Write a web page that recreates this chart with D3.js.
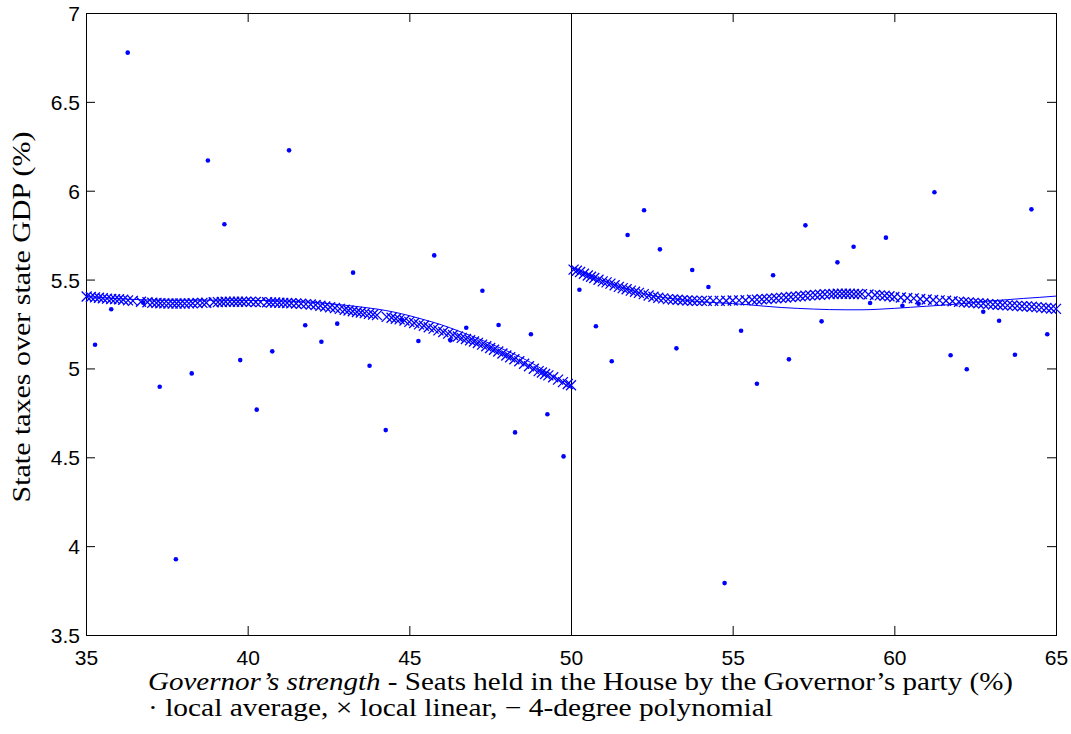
<!DOCTYPE html>
<html>
<head>
<meta charset="utf-8">
<script src="https://cdn.jsdelivr.net/npm/d3@7"></script>
<style>
  body { margin: 0; background: #fff; }
  .tick text { font-family: "Liberation Sans", Arial, sans-serif; font-size: 21px; fill: #000; }
  .lbl { font-family: "Liberation Serif", "Times New Roman", serif; font-size: 25px; fill: #000; }
</style>
</head>
<body>
<svg id="chart" width="1071" height="734"></svg>
<script>
// bin averages (dots)
var avgX = [35.28, 35.78, 36.29, 36.77, 37.28, 37.78, 38.27, 38.77, 39.28, 39.77,
            40.28, 40.76, 41.28, 41.78, 42.28, 42.77, 43.26, 43.77, 44.27, 44.77,
            45.28, 45.77, 46.27, 46.76, 47.26, 47.76, 48.27, 48.76, 49.27, 49.77,
            50.26, 50.77, 51.26, 51.75, 52.26, 52.75, 53.26, 53.75, 54.25, 54.75,
            55.26, 55.75, 56.25, 56.74, 57.25, 57.75, 58.24, 58.74, 59.25, 59.74,
            60.25, 60.75, 61.24, 61.74, 62.24, 62.75, 63.24, 63.73, 64.24, 64.73];
var avgY = [5.133, 5.333, 6.777, 5.370, 4.897, 3.926, 4.972, 6.170, 5.811, 5.047,
            4.768, 5.096, 6.227, 5.243, 5.150, 5.252, 5.539, 5.015, 4.653, 5.274,
            5.154, 5.636, 5.158, 5.229, 5.437, 5.244, 4.640, 5.192, 4.742, 4.505,
            5.443, 5.237, 5.040, 5.751, 5.890, 5.670, 5.113, 5.554, 5.458, 3.792,
            5.212, 4.914, 5.524, 5.051, 5.805, 5.265, 5.597, 5.685, 5.368, 5.736,
            5.353, 5.364, 5.991, 5.074, 4.995, 5.319, 5.268, 5.077, 5.895, 5.192];

// local linear fit (crosses), left of 50
var llLeftX = [35.02, 35.15, 35.28, 35.40, 35.52, 35.65, 35.78, 35.90, 36.02, 36.15,
               36.30, 36.45, 36.70, 36.90, 37.05, 37.18, 37.30, 37.42, 37.55, 37.68,
               37.80, 37.92, 38.05, 38.18, 38.30, 38.45, 38.60, 38.72, 38.95, 39.08,
               39.20, 39.32, 39.45, 39.58, 39.70, 39.82, 39.95, 40.10, 40.25, 40.40,
               40.60, 40.72, 40.85, 40.98, 41.10, 41.22, 41.35, 41.50, 41.65, 41.80,
               41.95, 42.10, 42.25, 42.40, 42.55, 42.70, 42.85, 43.00, 43.12, 43.25,
               43.38, 43.50, 43.62, 43.75, 43.88, 44.00, 44.30, 44.45, 44.58, 44.70,
               44.85, 45.00, 45.15, 45.30, 45.45, 45.60, 45.75, 45.90, 46.05, 46.20,
               46.35, 46.50, 46.62, 46.75, 46.88, 47.00, 47.12, 47.25, 47.38, 47.50,
               47.62, 47.75, 47.88, 48.00, 48.12, 48.25, 48.40, 48.55, 48.70, 48.85,
               49.00, 49.10, 49.20, 49.30, 49.45, 49.60, 49.75, 49.90, 50.00];
var llLeftY = [5.405, 5.402, 5.400, 5.398, 5.395, 5.393, 5.391, 5.390, 5.389, 5.386,
               5.383, 5.380, 5.375, 5.372, 5.370, 5.368, 5.367, 5.366, 5.365, 5.365,
               5.365, 5.365, 5.365, 5.366, 5.367, 5.368, 5.369, 5.370, 5.372, 5.373,
               5.374, 5.375, 5.375, 5.375, 5.375, 5.375, 5.375, 5.375, 5.374, 5.373,
               5.372, 5.371, 5.371, 5.370, 5.369, 5.368, 5.367, 5.365, 5.364, 5.362,
               5.360, 5.357, 5.353, 5.348, 5.344, 5.340, 5.335, 5.330, 5.326, 5.322,
               5.318, 5.315, 5.311, 5.307, 5.303, 5.300, 5.290, 5.285, 5.280, 5.276,
               5.270, 5.262, 5.256, 5.248, 5.240, 5.232, 5.224, 5.214, 5.205, 5.196,
               5.188, 5.180, 5.172, 5.166, 5.159, 5.152, 5.143, 5.134, 5.125, 5.115,
               5.105, 5.095, 5.084, 5.073, 5.063, 5.052, 5.040, 5.026, 5.012, 4.998,
               4.985, 4.977, 4.969, 4.961, 4.950, 4.937, 4.923, 4.912, 4.905];

// local linear fit (crosses), right of 50
var llRightX = [50.08, 50.18, 50.28, 50.40, 50.52, 50.62, 50.72, 50.85, 50.98, 51.10,
                51.22, 51.35, 51.48, 51.60, 51.72, 51.85, 51.98, 52.10, 52.25, 52.40,
                52.55, 52.70, 52.85, 53.00, 53.15, 53.30, 53.45, 53.60, 53.75, 53.90,
                54.05, 54.20, 54.40, 54.60, 54.80, 55.00, 55.20, 55.40, 55.60, 55.75,
                55.90, 56.05, 56.20, 56.35, 56.50, 56.65, 56.80, 56.95, 57.10, 57.25,
                57.40, 57.55, 57.70, 57.85, 58.00, 58.12, 58.25, 58.38, 58.50, 58.62,
                58.75, 58.88, 59.00, 59.20, 59.40, 59.55, 59.70, 59.85, 60.00, 60.20,
                60.40, 60.60, 60.80, 61.00, 61.20, 61.40, 61.60, 61.80, 62.00, 62.15,
                62.30, 62.45, 62.60, 62.75, 62.90, 63.05, 63.20, 63.35, 63.50, 63.65,
                63.80, 63.95, 64.10, 64.25, 64.40, 64.55, 64.70, 64.85, 65.00];
var llRightY = [5.556, 5.550, 5.543, 5.533, 5.523, 5.516, 5.509, 5.499, 5.490, 5.484,
                5.477, 5.468, 5.459, 5.452, 5.446, 5.438, 5.431, 5.425, 5.418, 5.410,
                5.403, 5.398, 5.394, 5.390, 5.388, 5.386, 5.384, 5.382, 5.381, 5.380,
                5.380, 5.380, 5.380, 5.380, 5.381, 5.382, 5.383, 5.384, 5.386, 5.387,
                5.389, 5.391, 5.393, 5.395, 5.397, 5.399, 5.402, 5.404, 5.406, 5.409,
                5.411, 5.413, 5.415, 5.417, 5.418, 5.419, 5.420, 5.420, 5.420, 5.420,
                5.419, 5.419, 5.418, 5.416, 5.413, 5.411, 5.409, 5.406, 5.402, 5.399,
                5.396, 5.394, 5.391, 5.388, 5.385, 5.383, 5.381, 5.378, 5.375, 5.373,
                5.371, 5.369, 5.367, 5.365, 5.362, 5.360, 5.358, 5.357, 5.355, 5.354,
                5.352, 5.350, 5.349, 5.347, 5.345, 5.342, 5.340, 5.337, 5.335];

// 4-degree polynomial fits
var polyLeftX = [35, 35.5, 36, 36.5, 37, 37.5, 38, 38.5, 39, 39.5, 40, 40.5, 41, 41.5, 42,
                 42.5, 43, 43.5, 44, 44.5, 45, 45.5, 46, 46.5, 47, 47.5, 48, 48.5, 49, 49.5, 50];
var polyLeftY = [5.405, 5.398, 5.392, 5.388, 5.385, 5.384, 5.384, 5.384, 5.384, 5.384, 5.383,
                 5.382, 5.380, 5.377, 5.372, 5.365, 5.356, 5.346, 5.334, 5.318, 5.297,
                 5.272, 5.245, 5.212, 5.177, 5.140, 5.100, 5.058, 5.008, 4.950, 4.888];
var polyRightX = [50.05, 50.5, 51, 51.5, 52, 52.5, 53, 53.5, 54, 54.5, 55, 55.5, 56, 56.5, 57,
                  57.5, 58, 58.5, 59, 59.5, 60, 60.5, 61, 61.5, 62, 62.5, 63, 63.5, 64, 64.5, 65];
var polyRightY = [5.565, 5.530, 5.493, 5.460, 5.432, 5.410, 5.395, 5.384, 5.375, 5.370, 5.365,
                  5.358, 5.350, 5.343, 5.338, 5.334, 5.331, 5.330, 5.330, 5.333, 5.338,
                  5.344, 5.350, 5.356, 5.363, 5.372, 5.380, 5.387, 5.394, 5.400, 5.407];

var xTicks = [35, 40, 45, 50, 55, 60, 65];
var yTicks = [3.5, 4, 4.5, 5, 5.5, 6, 6.5, 7];
var cutoff = 50;

var plotL = 86, plotR = 1056, plotT = 13, plotB = 635;
var blue = "#0000ff";

var svg = d3.select("#chart");
var x = d3.scaleLinear().domain([35, 65]).range([plotL, plotR]);
var y = d3.scaleLinear().domain([3.5, 7]).range([plotB, plotT]);

// axes, ticks pointing inward on all four sides
var gx = svg.append("g").attr("transform", "translate(0," + plotB + ")")
  .call(d3.axisBottom(x).tickValues(xTicks).tickFormat(d3.format("d")).tickSizeInner(-9).tickSizeOuter(0).tickPadding(15));
var gxt = svg.append("g").attr("transform", "translate(0," + plotT + ")")
  .call(d3.axisTop(x).tickValues(xTicks).tickFormat("").tickSizeInner(-9).tickSizeOuter(0));
var gy = svg.append("g").attr("transform", "translate(" + plotL + ",0)")
  .call(d3.axisLeft(y).tickValues(yTicks).tickFormat(d => d).tickSizeInner(-9).tickSizeOuter(0).tickPadding(6));
var gyr = svg.append("g").attr("transform", "translate(" + plotR + ",0)")
  .call(d3.axisRight(y).tickValues(yTicks).tickFormat("").tickSizeInner(-9).tickSizeOuter(0));
[gx, gxt, gy, gyr].forEach(function(g) {
  g.select(".domain").remove();
  g.selectAll(".tick line").attr("stroke", "#000").attr("stroke-width", 1);
});
gx.selectAll(".tick text").attr("dy", "0.71em");
gy.selectAll(".tick text").attr("dy", "0.36em");

svg.append("rect")
  .attr("x", plotL).attr("y", plotT).attr("width", plotR - plotL).attr("height", plotB - plotT)
  .attr("fill", "none").attr("stroke", "#000").attr("stroke-width", 1)
  .attr("shape-rendering", "crispEdges");

// threshold line
svg.append("line")
  .attr("x1", x(cutoff)).attr("x2", x(cutoff)).attr("y1", plotT).attr("y2", plotB)
  .attr("stroke", "#000").attr("stroke-width", 1).attr("shape-rendering", "crispEdges");

// dots
svg.append("g").selectAll("circle")
  .data(avgX.map((d, i) => [d, avgY[i]]))
  .join("circle")
  .attr("cx", d => x(d[0])).attr("cy", d => y(d[1])).attr("r", 2.3)
  .attr("fill", blue);

// crosses
var crosses = llLeftX.map((d, i) => [d, llLeftY[i]])
  .concat(llRightX.map((d, i) => [d, llRightY[i]]));
svg.append("g").selectAll("path")
  .data(crosses)
  .join("path")
  .attr("d", function(d) {
    var cx = x(d[0]), cy = y(d[1]), s = 5;
    return "M" + (cx - s) + "," + (cy - s) + "L" + (cx + s) + "," + (cy + s) +
           "M" + (cx - s) + "," + (cy + s) + "L" + (cx + s) + "," + (cy - s);
  })
  .attr("stroke", blue).attr("stroke-width", 1.3).attr("fill", "none");

// polynomial lines
var line = d3.line().x(d => x(d[0])).y(d => y(d[1])).curve(d3.curveMonotoneX);
[[polyLeftX, polyLeftY], [polyRightX, polyRightY]].forEach(function(p) {
  svg.append("path")
    .datum(p[0].map((d, i) => [d, p[1][i]]))
    .attr("d", line)
    .attr("fill", "none").attr("stroke", blue).attr("stroke-width", 1);
});

// labels
var xl = svg.append("text").attr("class", "lbl").attr("x", 148).attr("y", 690)
  .attr("textLength", 865).attr("lengthAdjust", "spacingAndGlyphs");
xl.append("tspan").attr("font-style", "italic").text("Governor\u2019s strength");
xl.append("tspan").text(" - Seats held in the House by the Governor\u2019s party (%)");

svg.append("text").attr("class", "lbl").attr("x", 148).attr("y", 716)
  .attr("textLength", 625).attr("lengthAdjust", "spacingAndGlyphs")
  .text("\u00b7 local average, \u00d7 local linear, \u2212 4-degree polynomial");

svg.append("text").attr("class", "lbl")
  .attr("transform", "translate(30,317) rotate(-90)")
  .attr("text-anchor", "middle")
  .attr("textLength", 371).attr("lengthAdjust", "spacingAndGlyphs")
  .text("State taxes over state GDP (%)");
</script>
</body>
</html>
